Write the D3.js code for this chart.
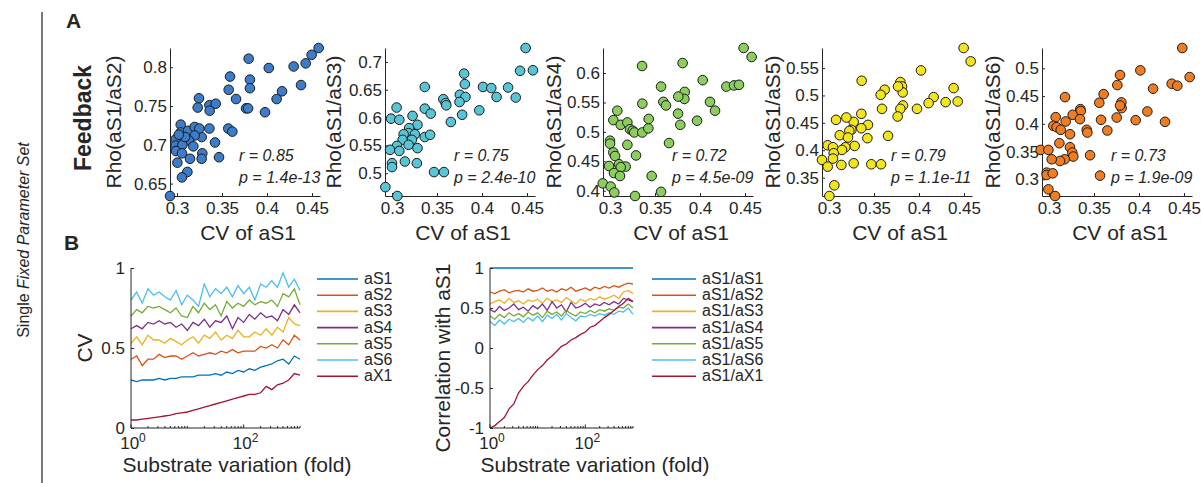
<!DOCTYPE html>
<html lang="en">
<head>
<meta charset="utf-8">
<title>Single Fixed Parameter Set</title>
<script src="https://cdn.jsdelivr.net/npm/d3@7"></script>
<style>
  body { margin: 0; background: #fff; }
  svg text { font-family: "Liberation Sans", Arial, sans-serif; fill: #262626; }
</style>
</head>
<body>
<div id="chart"></div>
<script>
// ---------- data: panel A scatter, [CV of aS1, Rho] ----------
const scatterS2 = [[0.4574,0.8248],[0.4496,0.816],[0.443,0.805],[0.4296,0.801],[0.4378,0.777],[0.402,0.799],[0.3796,0.811],[0.381,0.784],[0.381,0.773],[0.3589,0.788],[0.3574,0.771],[0.3656,0.759],[0.4167,0.769],[0.4107,0.759],[0.3978,0.742],[0.3767,0.747],[0.379,0.747],[0.3244,0.760],[0.323,0.748],[0.336,0.751],[0.3363,0.744],[0.343,0.753],[0.357,0.721],[0.3615,0.717],[0.336,0.721],[0.3422,0.703],[0.3467,0.684],[0.3274,0.710],[0.3281,0.689],[0.3274,0.682],[0.3041,0.726],[0.3041,0.716],[0.3122,0.718],[0.3196,0.723],[0.3248,0.721],[0.3196,0.712],[0.313,0.706],[0.3181,0.698],[0.2985,0.707],[0.2985,0.699],[0.306,0.700],[0.2989,0.692],[0.3055,0.689],[0.3144,0.682],[0.3004,0.677],[0.3115,0.665],[0.3055,0.658],[0.2922,0.634],[0.309,0.710],[0.302,0.713]];
const scatterS3 = [[0.4485,0.725],[0.4423,0.684],[0.4566,0.685],[0.3801,0.679],[0.3809,0.660],[0.4011,0.655],[0.4103,0.653],[0.4162,0.637],[0.429,0.654],[0.4375,0.636],[0.3754,0.641],[0.3816,0.637],[0.375,0.628],[0.357,0.633],[0.3596,0.626],[0.3603,0.622],[0.3364,0.655],[0.397,0.613],[0.3779,0.605],[0.3654,0.592],[0.3364,0.616],[0.343,0.607],[0.3051,0.618],[0.2989,0.598],[0.3081,0.596],[0.3228,0.603],[0.3283,0.587],[0.3191,0.581],[0.3184,0.572],[0.3254,0.570],[0.3129,0.570],[0.3364,0.565],[0.3423,0.569],[0.3118,0.560],[0.3221,0.560],[0.3055,0.549],[0.3184,0.551],[0.3283,0.545],[0.2978,0.542],[0.3081,0.540],[0.3,0.518],[0.3,0.511],[0.3143,0.521],[0.3276,0.518],[0.3467,0.502],[0.3577,0.502],[0.2926,0.475],[0.3059,0.459]];
const scatterS4 = [[0.4485,0.6426],[0.4574,0.6273],[0.3807,0.617],[0.3356,0.612],[0.403,0.588],[0.3567,0.577],[0.4293,0.577],[0.4378,0.579],[0.4433,0.580],[0.383,0.568],[0.3826,0.556],[0.3759,0.560],[0.3593,0.551],[0.3622,0.545],[0.4111,0.551],[0.4167,0.536],[0.3359,0.548],[0.3756,0.531],[0.3781,0.512],[0.3967,0.519],[0.3081,0.536],[0.3037,0.520],[0.3119,0.512],[0.3193,0.516],[0.3222,0.5045],[0.3252,0.502],[0.327,0.499],[0.3359,0.499],[0.3426,0.506],[0.343,0.522],[0.3,0.485],[0.3,0.48],[0.3037,0.465],[0.3056,0.459],[0.3193,0.478],[0.3289,0.46],[0.3656,0.481],[0.2989,0.442],[0.31,0.445],[0.3174,0.441],[0.3119,0.44],[0.3044,0.43],[0.3111,0.425],[0.3463,0.425],[0.2919,0.4125],[0.3007,0.407],[0.3048,0.397],[0.3278,0.391],[0.3567,0.398]];
const scatterS5 = [[0.4496,0.5866],[0.4574,0.5622],[0.4022,0.5457],[0.3363,0.5268],[0.3793,0.5244],[0.3811,0.5165],[0.3819,0.5055],[0.3767,0.5165],[0.3619,0.5104],[0.3574,0.5012],[0.4385,0.5134],[0.4163,0.497],[0.4107,0.486],[0.4296,0.4878],[0.443,0.489],[0.3978,0.4756],[0.3822,0.4817],[0.3793,0.4756],[0.3589,0.4756],[0.3763,0.4616],[0.3359,0.4665],[0.3274,0.4518],[0.3433,0.4463],[0.3359,0.4402],[0.3193,0.4598],[0.3078,0.4555],[0.3248,0.4372],[0.3226,0.4354],[0.3119,0.4274],[0.3211,0.4232],[0.3426,0.422],[0.3656,0.4262],[0.3285,0.4079],[0.3181,0.4055],[0.3144,0.4006],[0.2985,0.4091],[0.3044,0.4055],[0.3052,0.3945],[0.3044,0.3848],[0.2922,0.3823],[0.2985,0.3701],[0.3137,0.3732],[0.3274,0.3762],[0.347,0.3744],[0.3578,0.3744],[0.3059,0.336],[0.3004,0.3165]];
const scatterS6 = [[0.4481,0.5367],[0.4563,0.4843],[0.4015,0.4964],[0.3789,0.488],[0.4363,0.4723],[0.4426,0.4687],[0.4156,0.4633],[0.3759,0.4699],[0.3607,0.4536],[0.3559,0.438],[0.3804,0.4386],[0.3807,0.4283],[0.3789,0.4331],[0.3752,0.4114],[0.3963,0.4066],[0.4093,0.4223],[0.4289,0.4036],[0.3178,0.4482],[0.3348,0.4265],[0.3352,0.4229],[0.3263,0.4163],[0.3344,0.4084],[0.3185,0.4042],[0.3074,0.412],[0.3048,0.3964],[0.3085,0.394],[0.313,0.3892],[0.3233,0.3813],[0.3419,0.3892],[0.3426,0.3843],[0.3578,0.4072],[0.3648,0.388],[0.3115,0.3651],[0.3233,0.3578],[0.3259,0.3482],[0.327,0.341],[0.3174,0.3361],[0.3122,0.3331],[0.303,0.3361],[0.2907,0.353],[0.2993,0.353],[0.3456,0.3434],[0.3567,0.3066],[0.2974,0.312],[0.2974,0.3078],[0.3041,0.3108],[0.2993,0.2819],[0.3067,0.2699]];

const scatterLabels = ["Rho(aS1/aS2)", "Rho(aS1/aS3)", "Rho(aS1/aS4)", "Rho(aS1/aS5)", "Rho(aS1/aS6)"];
const rValues = ["0.85", "0.75", "0.72", "0.79", "0.73"];
const pValues = ["1.4e-13", "2.4e-10", "4.5e-09", "1.1e-11", "1.9e-09"];
const cvTicks = [0.3, 0.35, 0.4, 0.45];
const rhoTicks = [
  [0.65, 0.7, 0.75, 0.8],
  [0.5, 0.55, 0.6, 0.65, 0.7],
  [0.4, 0.45, 0.5, 0.55, 0.6],
  [0.35, 0.4, 0.45, 0.5, 0.55],
  [0.3, 0.35, 0.4, 0.45, 0.5]
];

// ---------- data: panel B lines ----------
const fold = [1,1.26,1.58,2,2.51,3.16,3.98,5.01,6.31,7.94,10,12.6,15.8,20,25.1,31.6,39.8,50.1,63.1,79.4,100,126,158,200,251,316,398,501,631,794,1000];
const cvNames = ["aS1", "aS2", "aS3", "aS4", "aS5", "aS6", "aX1"];
const cvAS1 = [0.30,0.29,0.30,0.30,0.30,0.31,0.30,0.31,0.31,0.32,0.32,0.32,0.33,0.33,0.33,0.34,0.33,0.35,0.34,0.36,0.35,0.37,0.36,0.38,0.39,0.40,0.42,0.43,0.40,0.45,0.43];
const cvAS2 = [0.43,0.45,0.39,0.43,0.43,0.46,0.44,0.45,0.45,0.43,0.45,0.47,0.45,0.46,0.47,0.46,0.48,0.47,0.49,0.47,0.48,0.48,0.48,0.51,0.50,0.52,0.50,0.55,0.52,0.58,0.55];
const cvAS3 = [0.53,0.57,0.52,0.58,0.55,0.55,0.53,0.56,0.54,0.52,0.55,0.57,0.53,0.58,0.56,0.60,0.55,0.58,0.56,0.61,0.57,0.57,0.60,0.58,0.62,0.58,0.63,0.60,0.69,0.65,0.64];
const cvAS4 = [0.62,0.64,0.62,0.66,0.65,0.67,0.65,0.66,0.63,0.65,0.61,0.66,0.64,0.68,0.63,0.67,0.66,0.70,0.62,0.69,0.66,0.71,0.68,0.72,0.69,0.70,0.67,0.74,0.71,0.77,0.72];
const cvAS5 = [0.70,0.74,0.72,0.76,0.75,0.76,0.74,0.72,0.75,0.70,0.69,0.76,0.72,0.78,0.74,0.77,0.70,0.79,0.75,0.78,0.76,0.80,0.77,0.79,0.78,0.80,0.76,0.84,0.82,0.87,0.77];
const cvAS6 = [0.80,0.85,0.78,0.87,0.83,0.85,0.82,0.80,0.86,0.77,0.83,0.80,0.76,0.90,0.82,0.87,0.84,0.88,0.82,0.89,0.84,0.88,0.80,0.90,0.88,0.92,0.88,0.97,0.88,0.93,0.86];
const cvAX1 = [0.05,0.05,0.055,0.06,0.065,0.07,0.075,0.08,0.09,0.095,0.10,0.11,0.12,0.13,0.14,0.15,0.16,0.17,0.18,0.19,0.20,0.21,0.21,0.22,0.26,0.24,0.27,0.28,0.30,0.34,0.33];

const corrNames = ["aS1/aS1", "aS1/aS2", "aS1/aS3", "aS1/aS4", "aS1/aS5", "aS1/aS6", "aS1/aX1"];
const corrS1 = [1,1,1,1,1,1,1,1,1,1,1,1,1,1,1,1,1,1,1,1,1,1,1,1,1,1,1,1,1,1,1];
const corrS2 = [0.70,0.68,0.71,0.73,0.69,0.71,0.72,0.70,0.74,0.71,0.72,0.75,0.71,0.73,0.70,0.74,0.72,0.76,0.71,0.73,0.75,0.72,0.76,0.74,0.77,0.75,0.78,0.76,0.79,0.81,0.80];
const corrS3 = [0.55,0.58,0.60,0.56,0.62,0.57,0.59,0.55,0.60,0.58,0.61,0.56,0.62,0.58,0.60,0.57,0.63,0.59,0.55,0.61,0.58,0.62,0.60,0.64,0.61,0.63,0.66,0.62,0.70,0.72,0.68];
const corrS4 = [0.48,0.45,0.52,0.47,0.50,0.55,0.48,0.51,0.46,0.53,0.49,0.55,0.47,0.58,0.50,0.54,0.45,0.57,0.50,0.52,0.56,0.51,0.55,0.53,0.57,0.54,0.58,0.55,0.62,0.60,0.58];
const corrS5 = [0.40,0.36,0.42,0.38,0.44,0.40,0.43,0.39,0.45,0.41,0.44,0.38,0.46,0.42,0.45,0.40,0.47,0.43,0.40,0.45,0.43,0.47,0.44,0.48,0.46,0.49,0.47,0.51,0.50,0.55,0.50];
const corrS6 = [0.33,0.28,0.35,0.30,0.36,0.33,0.37,0.32,0.38,0.34,0.40,0.33,0.41,0.37,0.42,0.35,0.43,0.38,0.34,0.40,0.39,0.42,0.40,0.43,0.41,0.44,0.42,0.46,0.45,0.50,0.42];
const corrX1 = [-1.00,-0.97,-0.92,-0.87,-0.76,-0.70,-0.56,-0.48,-0.42,-0.34,-0.27,-0.22,-0.15,-0.10,-0.04,0.02,0.05,0.10,0.13,0.17,0.20,0.26,0.28,0.33,0.38,0.42,0.47,0.52,0.56,0.62,0.58];

// ---------- layout ----------
const W = 1201, H = 483;
const ink = "#262626";
const lineColors = ["#0072BD", "#D95319", "#EDB120", "#7E2F8E", "#77AC30", "#4DBEEE", "#A2142F"];
const dotColors = ["#3d7cc9", "#58c5d6", "#8cce5e", "#f2e51c", "#f07d22"];
const panelLeft = [170, 385, 603, 822, 1042];
const labelX = [114, 334, 554, 773, 993];

const svg = d3.select("#chart").append("svg")
    .attr("width", W)
    .attr("height", H);
svg.append("rect").attr("width", W).attr("height", H).attr("fill", "#fff");

// side label + divider
svg.append("line")
    .attr("x1", 42).attr("x2", 42).attr("y1", 12).attr("y2", H)
    .attr("stroke", "#4d4d4d").attr("stroke-width", 1.5);
let side = svg.append("text")
    .attr("transform", "translate(29,240) rotate(-90)")
    .attr("text-anchor", "middle")
    .style("font-size", "16px");
side.append("tspan").text("Single ");
side.append("tspan").style("font-style", "italic").text("Fixed Parameter Set");

svg.append("text").attr("x", 66).attr("y", 28).style("font-size", "21px").style("font-weight", "bold").text("A");
svg.append("text").attr("x", 64).attr("y", 250).style("font-size", "21px").style("font-weight", "bold").text("B");
svg.append("text")
    .attr("transform", "translate(91,118) rotate(-90)")
    .attr("text-anchor", "middle")
    .style("font-size", "23px").style("font-weight", "bold")
    .text("Feedback");

let styleAxis = (g, size) => {
    g.attr("font-family", null).attr("font-size", null);
    g.select(".domain").attr("stroke", ink).attr("stroke-width", 1);
    g.selectAll(".tick line").attr("stroke", ink);
    g.selectAll(".tick text").style("font-size", size).attr("fill", ink);
};

// ---------- panel A ----------
const scatterSets = [scatterS2, scatterS3, scatterS4, scatterS5, scatterS6];
const aTop = 48, aBottom = 196;

scatterSets.forEach((pts, i) => {
    let left = panelLeft[i];
    let x = d3.scaleLinear().domain([0.2922, 0.4589]).range([left, left + 150]);
    let yExt = d3.extent(pts, d => d[1]);
    let y = d3.scaleLinear().domain(yExt).range([aBottom, aTop]);

    let g = svg.append("g");

    g.append("g")
        .attr("transform", `translate(0,${aBottom})`)
        .call(d3.axisBottom(x).tickValues(cvTicks).tickSizeInner(-3).tickSizeOuter(0).tickPadding(6).tickFormat(d => String(d)))
        .call(s => styleAxis(s, "17px"));

    g.append("g")
        .attr("transform", `translate(${left},0)`)
        .call(d3.axisLeft(y).tickValues(rhoTicks[i]).tickSizeInner(-3).tickSizeOuter(0).tickPadding(3).tickFormat(d => String(d)))
        .call(s => styleAxis(s, "17px"));

    g.append("text")
        .attr("transform", `translate(${labelX[i] + 7},${(aTop + aBottom) / 2}) rotate(-90)`)
        .attr("text-anchor", "middle")
        .style("font-size", "21px")
        .text(scatterLabels[i]);

    g.append("text")
        .attr("x", left + 78).attr("y", 240)
        .attr("text-anchor", "middle")
        .style("font-size", "21px")
        .text("CV of aS1");

    g.append("g").selectAll("circle")
        .data(pts)
        .enter()
        .append("circle")
            .attr("cx", d => x(d[0]))
            .attr("cy", d => y(d[1]))
            .attr("r", 4.8)
            .attr("fill", dotColors[i])
            .attr("stroke", "#1a1a1a")
            .attr("stroke-width", 1);

    g.append("text")
        .attr("x", left + 69).attr("y", 161)
        .style("font-size", "16px").style("font-style", "italic")
        .text(`r = ${rValues[i]}`);
    g.append("text")
        .attr("x", left + 69).attr("y", 183)
        .style("font-size", "16px").style("font-style", "italic")
        .text(`p = ${pValues[i]}`);
});

// ---------- panel B ----------
const bTop = 268, bBottom = 428;

let linePanel = (opt) => {
    let x = d3.scaleLog().domain([1, 1000]).range([opt.left, opt.right]);
    let y = d3.scaleLinear().domain(opt.yDomain).range([bBottom, bTop]);
    let g = svg.append("g");

    let line = d3.line().x((d, j) => x(fold[j])).y(d => y(d));
    opt.series.forEach((s, k) => {
        g.append("path")
            .datum(s)
            .attr("d", line)
            .attr("fill", "none")
            .attr("stroke", lineColors[k])
            .attr("stroke-width", 1.3);
    });

    // axes lines
    g.append("line").attr("x1", opt.left).attr("x2", opt.right).attr("y1", bBottom).attr("y2", bBottom).attr("stroke", ink);
    g.append("line").attr("x1", opt.left).attr("x2", opt.left).attr("y1", bTop).attr("y2", bBottom).attr("stroke", ink);

    // log ticks
    x.ticks().forEach(v => {
        let major = (v === 1 || v === 100);
        g.append("line")
            .attr("x1", x(v)).attr("x2", x(v))
            .attr("y1", bBottom).attr("y2", bBottom - (major ? 3.5 : 2))
            .attr("stroke", ink);
    });
    [[1, "0"], [100, "2"]].forEach(([v, e]) => {
        let t = g.append("text")
            .attr("x", x(v) + 2).attr("y", bBottom + 21)
            .attr("text-anchor", "middle")
            .style("font-size", "17px");
        t.append("tspan").text("10");
        t.append("tspan").attr("dy", -7).style("font-size", "12px").text(e);
    });

    g.append("g")
        .attr("transform", `translate(${opt.left},0)`)
        .call(d3.axisLeft(y).tickValues(opt.yTicks).tickSizeInner(-3).tickSizeOuter(0).tickPadding(6).tickFormat(d => String(d)))
        .call(s => s.select(".domain").remove())
        .call(s => styleAxis(s, "17px"));

    g.append("text")
        .attr("x", opt.xLabelX).attr("y", 472)
        .attr("text-anchor", "middle")
        .style("font-size", "21px")
        .text("Substrate variation (fold)");
    g.append("text")
        .attr("transform", `translate(${opt.yLabelX},${opt.yLabelY}) rotate(-90)`)
        .attr("text-anchor", "middle")
        .style("font-size", "21px")
        .text(opt.yLabel);

    // legend
    opt.names.forEach((name, k) => {
        let ly = 279 + k * 16.2;
        g.append("line")
            .attr("x1", opt.legendX).attr("x2", opt.legendX + opt.legendLen)
            .attr("y1", ly).attr("y2", ly)
            .attr("stroke", lineColors[k]).attr("stroke-width", 1.6);
        g.append("text")
            .attr("x", opt.legendX + opt.legendLen + 6).attr("y", ly + 5)
            .style("font-size", "16px")
            .text(name);
    });
};

linePanel({
    left: 131, right: 300, yDomain: [0, 1], yTicks: [0, 0.5, 1],
    series: [cvAS1, cvAS2, cvAS3, cvAS4, cvAS5, cvAS6, cvAX1],
    names: cvNames, yLabel: "CV", yLabelX: 92, yLabelY: 348, xLabelX: 237,
    legendX: 317, legendLen: 41
});

linePanel({
    left: 490, right: 633, yDomain: [-1, 1], yTicks: [-1, -0.5, 0, 0.5, 1],
    series: [corrS1, corrS2, corrS3, corrS4, corrS5, corrS6, corrX1],
    names: corrNames, yLabel: "Correlation with aS1", yLabelX: 450, yLabelY: 358, xLabelX: 595,
    legendX: 652, legendLen: 44
});
</script>
</body>
</html>
